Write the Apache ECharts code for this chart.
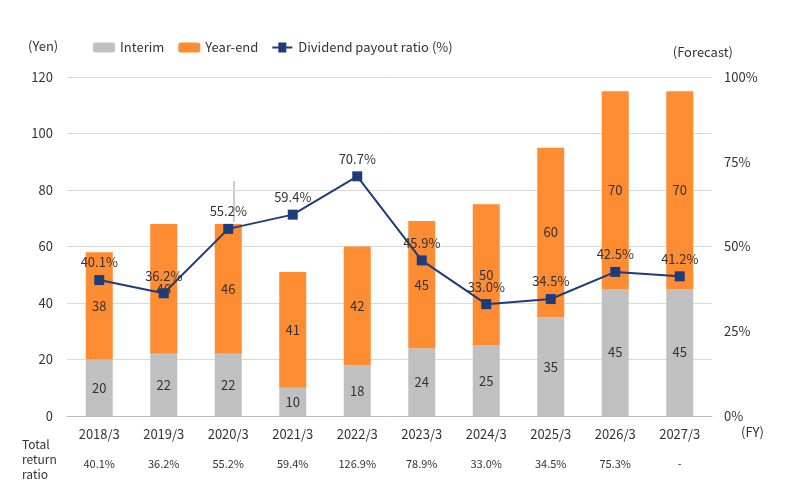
<!DOCTYPE html>
<html>
<head>
<meta charset="utf-8">
<script src="https://cdn.jsdelivr.net/npm/echarts@6/dist/echarts.min.js"></script>
<style>html,body{margin:0;padding:0;background:#fff}#main{width:785px;height:496px}</style>
</head>
<body>
<div id="main"></div>
<script>
var years = ['2018/3','2019/3','2020/3','2021/3','2022/3','2023/3','2024/3','2025/3','2026/3','2027/3'];
var interim = [20,22,22,10,18,24,25,35,45,45];
var yearEnd = [38,46,46,41,42,45,50,60,70,70];
var totals = [58,68,68,51,60,69,75,95,115,115];
var payout = [40.1,36.2,55.2,59.4,70.7,45.9,33.0,34.5,42.5,41.2];
var totalReturn = ['40.1%','36.2%','55.2%','59.4%','126.9%','78.9%','33.0%','34.5%','75.3%','-'];

var chart = echarts.init(document.getElementById('main'));
var font = 'Noto Sans CJK JP';
chart.setOption({
    animation: false,
    textStyle: {fontFamily: font},
    grid: {left: 67, right: 73, top: 77, bottom: 80},
    legend: {
        top: 36, left: 88, itemGap: 14, itemWidth: 22, itemHeight: 10,
        textStyle: {fontSize: 13, color: '#333'},
        data: ['Interim', 'Year-end', {name: 'Dividend payout ratio (%)', icon: 'path://M0,4L20,4L20,6L0,6Z M6,0L14,0L14,10L6,10Z'}]
    },
    xAxis: [
        {
            type: 'category', data: years,
            axisLine: {lineStyle: {color: '#bbb'}}, axisTick: {show: false},
            axisLabel: {color: '#333', fontSize: 13, margin: 12}
        },
        {
            type: 'category', data: totalReturn, position: 'bottom', offset: 34,
            axisLine: {show: false}, axisTick: {show: false},
            axisLabel: {color: '#333', fontSize: 11}
        }
    ],
    yAxis: [
        {
            type: 'value', min: 0, max: 120, interval: 20,
            axisLine: {show: false}, axisTick: {show: false},
            splitLine: {lineStyle: {color: '#d9d9d9'}},
            axisLabel: {color: '#333', fontSize: 13, margin: 14}
        },
        {
            type: 'value', min: 0, max: 100, interval: 25,
            axisLine: {show: false}, axisTick: {show: false}, splitLine: {show: false},
            axisLabel: {color: '#333', fontSize: 13, formatter: '{value}%', margin: 12}
        }
    ],
    series: [
        {
            name: 'Interim', type: 'bar', stack: 'd', barWidth: 27, data: interim,
            itemStyle: {color: '#c0c0c0'},
            label: {show: true, position: 'inside', color: '#333', fontSize: 13}
        },
        {
            name: 'Year-end', type: 'bar', stack: 'd', data: yearEnd,
            itemStyle: {color: '#fd8c32'},
            label: {show: true, position: 'inside', color: '#333', fontSize: 13}
        },
        {
            name: 'total', type: 'line', data: totals.map(function (v, i) {
                return i === 2 ? {value: v, label: {offset: [0, -42]}} : v;
            }),
            symbol: 'none', lineStyle: {opacity: 0}, silent: true,
            label: {show: true, position: 'top', distance: 12, color: '#333', fontSize: 13}
        },
        {
            name: 'Dividend payout ratio (%)', type: 'line', yAxisIndex: 1, data: payout,
            symbol: 'rect', symbolSize: 10,
            itemStyle: {color: '#1f3c7a'}, lineStyle: {color: '#1f3c7a', width: 2},
            label: {show: true, position: 'top', distance: 6, color: '#333', fontSize: 13, formatter: function (p) { return p.value.toFixed(1) + '%'; }}
        }
    ],
    graphic: [
        {type: 'text', left: 28, top: 40, style: {text: '(Yen)', fill: '#333', fontSize: 13, fontFamily: font}},
        {type: 'text', right: 52, top: 46, style: {text: '(Forecast)', fill: '#333', fontSize: 13, fontFamily: font}},
        {type: 'text', left: 741, top: 426, style: {text: '(FY)', fill: '#333', fontSize: 13, fontFamily: font}},
        {type: 'text', left: 22, top: 437, style: {text: 'Total\nreturn\nratio', fill: '#333', fontSize: 12, lineHeight: 15, fontFamily: font}},
        {type: 'line', shape: {x1: 234, y1: 181, x2: 234, y2: 222}, style: {stroke: '#999', lineWidth: 1}}
    ]
});
</script>
</body>
</html>
